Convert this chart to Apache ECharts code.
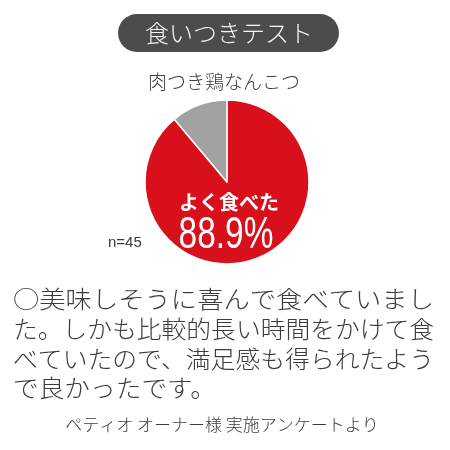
<!DOCTYPE html>
<html>
<head>
<meta charset="utf-8">
<script src="https://cdn.jsdelivr.net/npm/echarts@6/dist/echarts.min.js"></script>
<style>
  html, body { margin: 0; padding: 0; background: #fff; }
  #chart { width: 450px; height: 450px; }
</style>
</head>
<body>
<div id="chart"></div>
<script>
// survey result
const headline = '食いつきテスト';
const product = '肉つき鶏なんこつ';
const categories = ['よく食べた', 'その他'];
const values = [88.9, 11.1];
const sampleSize = 45;
const comment = [
  '○美味しそうに喜んで食べていまし',
  'た。しかも比較的長い時間をかけて食',
  'べていたので、満足感も得られたよう',
  'で良かったです。'
];
const source = 'ペティオ オーナー様 実施アンケートより';

const jp = '"Noto Sans CJK JP", "Noto Sans", sans-serif';
const textColor = '#3c3c3c';

const chart = echarts.init(document.getElementById('chart'), null, { renderer: 'canvas' });

// the comment block is justified: stretch every full line to the same width
const measure = document.createElement('canvas').getContext('2d');
const bodyFont = `300 24px ${jp}`;
measure.font = bodyFont;
const blockWidth = 421;
const commentLines = comment.map((line, i) => {
  const w = measure.measureText(line).width;
  const sx = i < comment.length - 1 ? blockWidth / w : 1.07;
  return {
    type: 'text',
    x: 13, y: 299 + i * 29.7,
    scaleX: sx,
    style: { text: line, font: bodyFont, fill: textColor, align: 'left', verticalAlign: 'middle' }
  };
});

const option = {
  animation: false,
  backgroundColor: '#fff',
  series: [
    {
      type: 'pie',
      center: [227, 182],
      radius: 82,
      startAngle: 90,
      clockwise: true,
      silent: true,
      label: { show: false },
      labelLine: { show: false },
      itemStyle: { borderColor: '#fff', borderWidth: 1.5 },
      color: ['#d8101b', '#a2a2a2'],
      data: categories.map((name, i) => ({ name, value: values[i] }))
    }
  ],
  graphic: [
    {
      type: 'rect',
      shape: { x: 118, y: 14, width: 221, height: 38, r: 19 },
      style: { fill: '#4e4b4b' }
    },
    {
      type: 'text',
      x: 229, y: 33,
      style: {
        text: headline, font: `300 24px ${jp}`, fill: '#f4f4f4',
        align: 'center', verticalAlign: 'middle'
      }
    },
    {
      type: 'text',
      x: 224, y: 82,
      style: {
        text: product, font: `300 19px ${jp}`, fill: textColor,
        align: 'center', verticalAlign: 'middle'
      }
    },
    {
      type: 'text',
      x: 229, y: 202,
      z: 10,
      style: {
        text: categories[0], font: `bold 20px ${jp}`, fill: '#fff',
        align: 'center', verticalAlign: 'middle'
      }
    },
    {
      type: 'text',
      x: 226, y: 236,
      z: 10,
      scaleX: 0.76,
      style: {
        text: values[0] + '%', font: '44px "Liberation Sans", sans-serif',
        fill: '#fff', align: 'center', verticalAlign: 'middle'
      }
    },
    {
      type: 'text',
      x: 108, y: 243,
      style: {
        text: 'n=' + sampleSize, font: '15px "Liberation Sans", sans-serif', fill: textColor,
        align: 'left', verticalAlign: 'middle'
      }
    },
    ...commentLines,
    {
      type: 'text',
      x: 222, y: 425,
      style: {
        text: source, font: `300 17px ${jp}`, fill: textColor,
        align: 'center', verticalAlign: 'middle'
      }
    }
  ]
};

chart.setOption(option);
</script>
</body>
</html>
